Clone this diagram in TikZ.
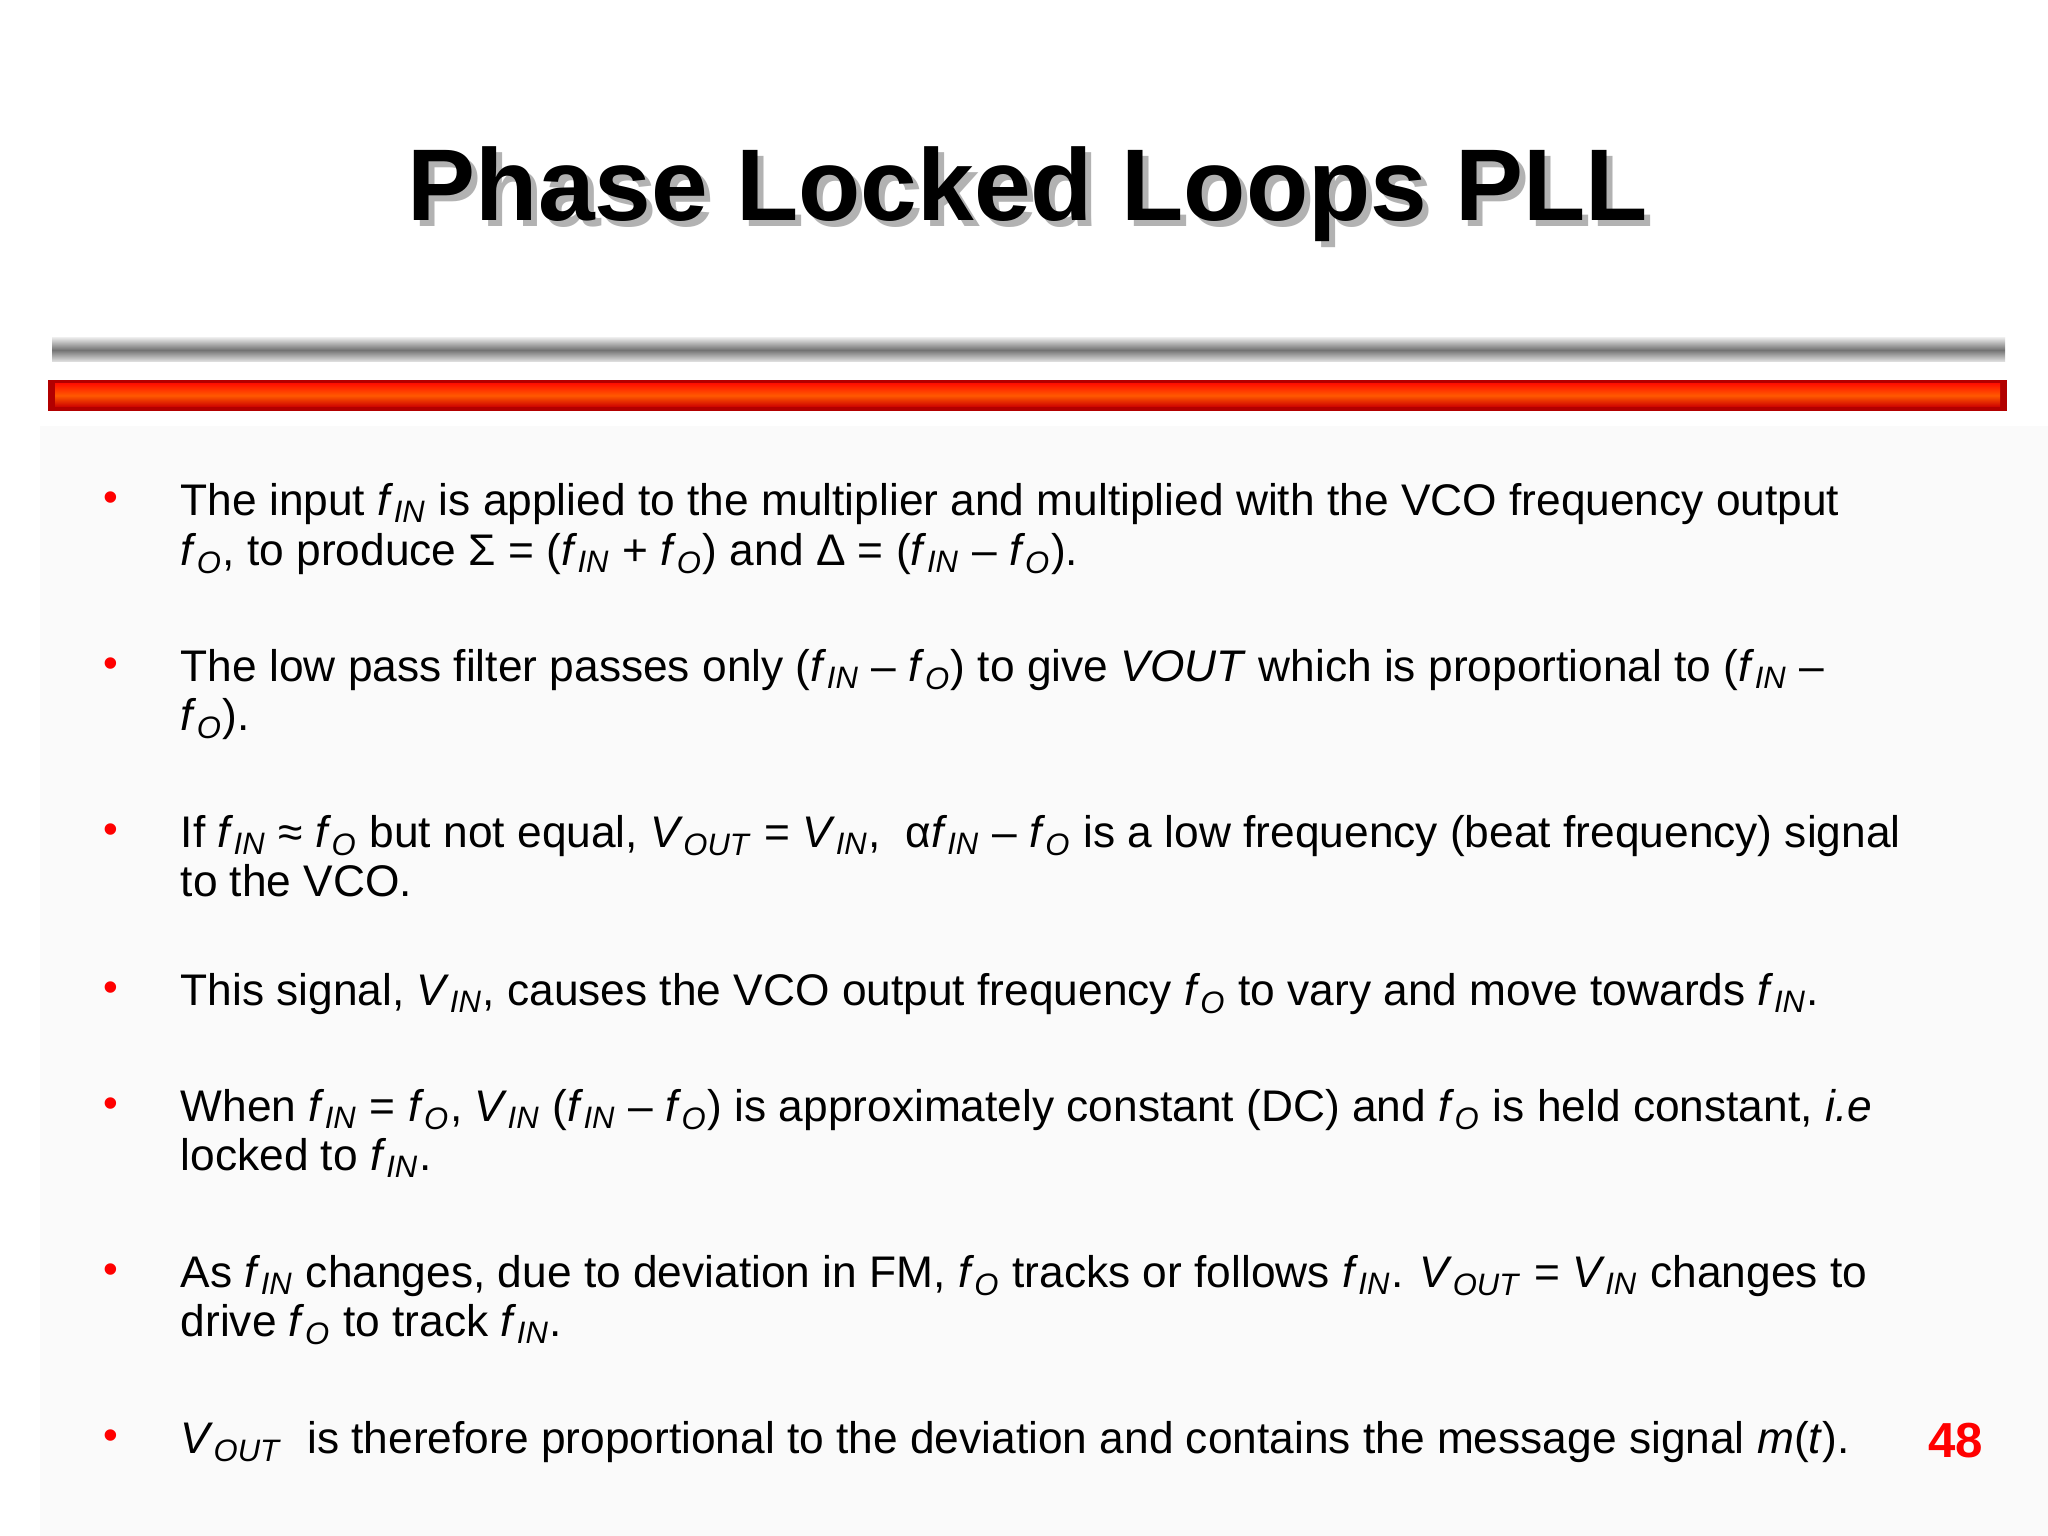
\documentclass[tikz,border=0pt]{standalone}
\usepackage{fontspec}
\setmainfont{Liberation Sans}
\newcommand\subs[1]{\textsubscript{\textit{#1}}}
\newcommand\fv[1]{\textit{f}\subs{#1}}
\newcommand\vv[1]{\textit{V}\subs{#1}}
\begin{document}
\begin{tikzpicture}[x=1cm,y=1cm,
  ln/.style={anchor=base west,inner sep=0pt,font=\fontsize{12.6pt}{14pt}\selectfont},
  bul/.style={anchor=base,inner sep=0pt,text=red,font=\fontsize{12pt}{14pt}\selectfont}]
\useasboundingbox (0,0) rectangle (20.48,15.36);
\fill[white] (0,0) rectangle (20.48,15.36);
\fill[black!2] (0.4,0) rectangle (20.48,11.1);
% title
\node[inner sep=0pt,text=black!30,font=\fontsize{29pt}{32pt}\selectfont\bfseries] at (10.34,13.36) {Phase Locked Loops PLL};
\node[inner sep=0pt,font=\fontsize{29pt}{32pt}\selectfont\bfseries] (title) at (10.28,13.42) {Phase Locked Loops PLL};
% rules
\shade[top color=black!10,bottom color=black!10,middle color=black!55] (0.52,11.74) rectangle (20.05,11.98);
\fill[red!70!black] (0.48,11.25) rectangle (20.07,11.56);
\shade[top color=red!85!orange,bottom color=red!80!black,middle color=orange!70!red] (0.55,11.29) rectangle (20.0,11.52);
% bullets
\foreach \y/\n in {5.16/1,6.82/2,8.48/3,10.06/4,11.22/5,12.88/6,14.54/7}{
  \node[bul] (b\n) at (1.11,15.36-\y+0.04) {\textbullet};}
\node[ln] (l1a) at (1.80,10.20) {The input \fv{IN} is applied to the multiplier and multiplied with the VCO frequency output};
\node[ln] (l1b) at (1.80,9.70) {\fv{O}, to produce Σ = (\fv{IN} + \fv{O}) and Δ = (\fv{IN} – \fv{O}).};
\node[ln] (l2a) at (1.80,8.54) {The low pass filter passes only (\fv{IN} – \fv{O}) to give \textit{VOUT} which is proportional to (\fv{IN} –};
\node[ln] (l2b) at (1.80,8.05) {\fv{O}).};
\node[ln] (l3a) at (1.80,6.88) {If \fv{IN} ≈ \fv{O} but not equal, \vv{OUT} = \vv{IN}, \ α\fv{IN} – \fv{O} is a low frequency (beat frequency) signal};
\node[ln] (l3b) at (1.80,6.39) {to the VCO.};
\node[ln] (l4a) at (1.80,5.30) {This signal, \vv{IN}, causes the VCO output frequency \fv{O} to vary and move towards \fv{IN}.};
\node[ln] (l5a) at (1.80,4.14) {When \fv{IN} = \fv{O}, \vv{IN} (\fv{IN} – \fv{O}) is approximately constant (DC) and \fv{O} is held constant, \textit{i.e}};
\node[ln] (l5b) at (1.80,3.65) {locked to \fv{IN}.};
\node[ln] (l6a) at (1.80,2.48) {As \fv{IN} changes, due to deviation in FM, \fv{O} tracks or follows \fv{IN}. \vv{OUT} = \vv{IN} changes to};
\node[ln] (l6b) at (1.80,1.99) {drive \fv{O} to track \fv{IN}.};
\node[ln] (l7a) at (1.80,0.82) {\vv{OUT} \ is therefore proportional to the deviation and contains the message signal \textit{m}(\textit{t}).};
\node[anchor=base,inner sep=0pt,text=red,font=\fontsize{14pt}{16pt}\selectfont\bfseries] (pg) at (19.56,0.78) {48};
\end{tikzpicture}
\end{document}
